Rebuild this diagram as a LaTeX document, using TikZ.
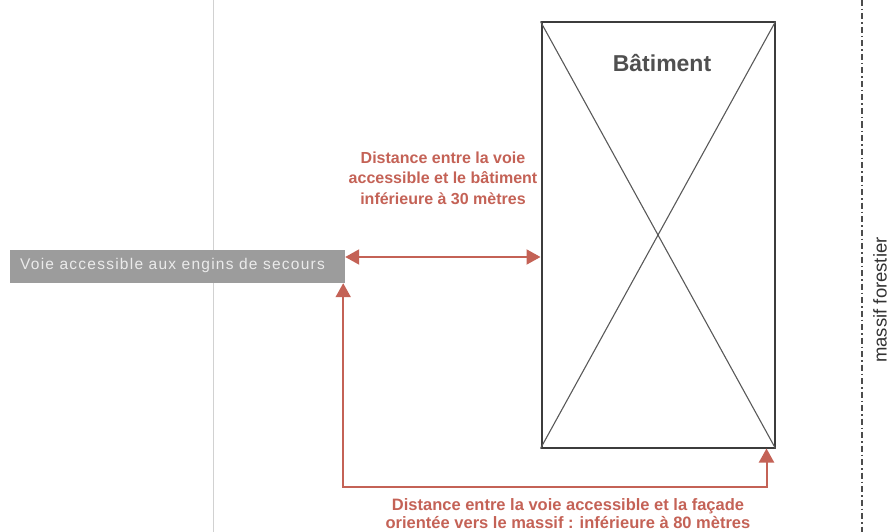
\documentclass[tikz,border=0pt]{standalone}
\usepackage{fontspec}
\setmainfont{Liberation Sans}
\newfontfamily\boxfont[LetterSpace=8]{Liberation Sans}
\usetikzlibrary{arrows.meta}
\definecolor{redline}{RGB}{196,98,86}
\definecolor{boxgray}{RGB}{156,156,156}
\definecolor{bldgray}{RGB}{60,60,60}
\tikzset{
  redarrow/.style={draw=redline, line width=2pt, {Triangle[length=14pt,width=15pt]}-{Triangle[length=14pt,width=15pt]}},
  redlabel/.style={text=redline, font=\bfseries\fontsize{16}{20.5}\selectfont, align=center, inner sep=0pt},
  building/.style={draw=bldgray, line width=2pt, minimum width=233pt, minimum height=425pt, inner sep=0pt},
  diag/.style={draw=bldgray!85, line width=1.1pt},
  graybox/.style={fill=boxgray, minimum width=335pt, minimum height=33pt, inner sep=0pt},
}
\begin{document}
\begin{tikzpicture}[x=1pt,y=-1pt]
\useasboundingbox (0,0) rectangle (896,532);
% faint scan line
\draw[black!18, line width=0.8pt] (213,0) -- (213,532);
% building
\node[building] (bat) at (658,235) {};
\draw[diag] (bat.north west) -- (bat.south east);
\draw[diag] (bat.north east) -- (bat.south west);
\node[fill=white, inner sep=2pt, text=bldgray!90, font=\bfseries\fontsize{23}{25}\selectfont] (battxt) at (662,63) {Bâtiment};
% grey road box
\node[graybox] (box) at (177.5,266.5) {};
\node[text=black!8, font=\boxfont\fontsize{15.5}{16}\selectfont, anchor=west, inner sep=0pt] (boxtxt) at (20,265) {Voie accessible aux engins de secours};
% horizontal arrow
\coordinate (hl) at (box.east |- 0,257);
\draw[redarrow] (hl) -- (bat.west |- hl);
\node[redlabel] (lab1) at (443,178) {Distance entre la voie\\accessible et le bâtiment\\inférieure à 30 mètres};
% bottom connector
\coordinate (bl) at ([xshift=-2pt]box.south east);
\coordinate (br) at ([xshift=-9pt]bat.south east);
\coordinate (bc) at (0,487);
\draw[redarrow] (bl) -- (bl |- bc) -- (br |- bc) -- (br);
\node[redlabel, font=\bfseries\fontsize{16.5}{18}\selectfont] (lab2) at (568,514) {Distance entre la voie accessible et la façade\\orientée vers le massif : inférieure à 80 mètres};
% forest boundary
\draw[black!70, line width=1.1pt, dash pattern=on 6pt off 3pt on 1.5pt off 3pt] (862,0) -- (862,532) coordinate (fe);
\node[rotate=90, font=\fontsize{18.5}{20}\selectfont, text=black!80, inner sep=0pt] (massif) at (880,300) {massif forestier};
\end{tikzpicture}
\end{document}
